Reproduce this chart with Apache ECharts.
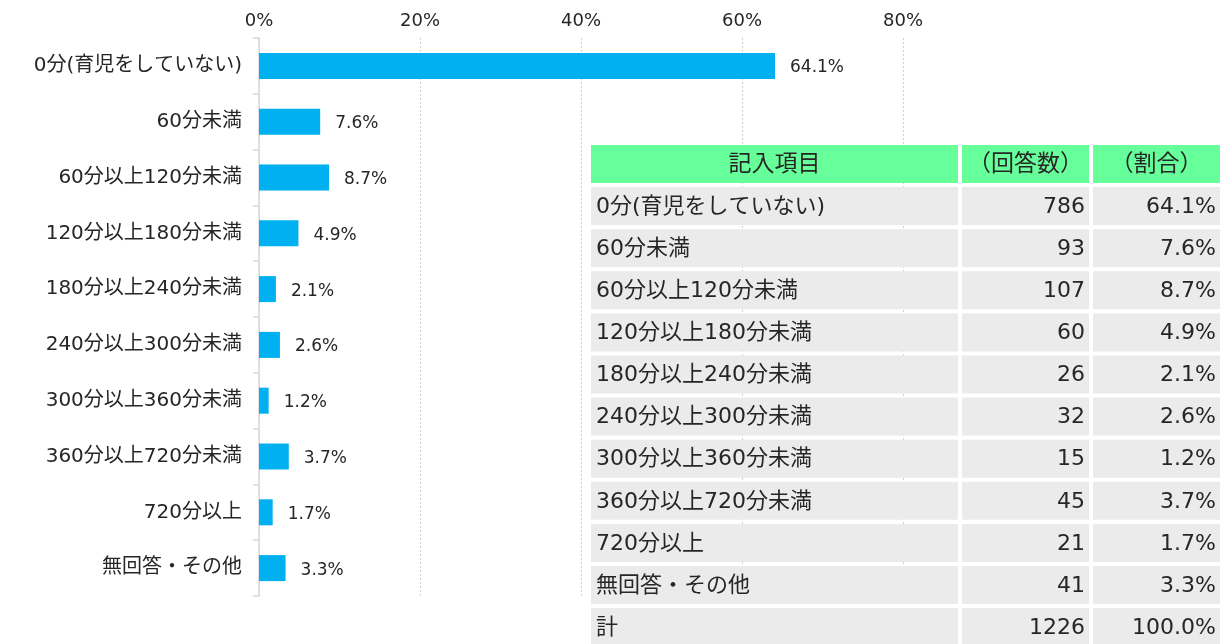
<!DOCTYPE html>
<html>
<head>
<meta charset="utf-8">
<script src="https://cdn.jsdelivr.net/npm/echarts@6/dist/echarts.min.js"></script>
<style>
html,body{margin:0;padding:0;background:#fff;}
#chart{width:1232px;height:644px;}
</style>
</head>
<body>
<div id="chart"></div>
<script>
// ---- data ----
const categories = ['0分(育児をしていない)','60分未満','60分以上120分未満','120分以上180分未満','180分以上240分未満','240分以上300分未満','300分以上360分未満','360分以上720分未満','720分以上','無回答・その他'];
const percents = [64.1, 7.6, 8.7, 4.9, 2.1, 2.6, 1.2, 3.7, 1.7, 3.3];
const counts = [786, 93, 107, 60, 26, 32, 15, 45, 21, 41];
const tableHeaders = ['記入項目', '（回答数）', '（割合）'];
const totalLabel = '計';
const totalCount = 1226;
const totalPercent = 100.0;
const xTicks = [0, 20, 40, 60, 80];

// ---- chart ----
const chart = echarts.init(document.getElementById('chart'));
const FONT = '"DejaVu Sans", "Noto Sans CJK JP", sans-serif';
const TEXT = '#262626';

// table layout (graphic)
const colX = [591, 962, 1093];
const colW = [367, 127, 127];
const top0 = 145, rowPitch = 42.1, cellH = 38;
const tableFont = 22, headerFont = 23;
const rows = categories.map((c, i) => [c, String(counts[i]), percents[i].toFixed(1) + '%']);
rows.push([totalLabel, String(totalCount), totalPercent.toFixed(1) + '%']);

const graphics = [];
function cell(r, c, text, bg, align, fs) {
  const y = top0 + r * rowPitch;
  graphics.push({
    type: 'rect', z: 100,
    shape: { x: colX[c], y: y, width: colW[c], height: cellH },
    style: { fill: bg }
  });
  let tx, ta;
  if (align === 'center') { tx = colX[c] + colW[c] / 2; ta = 'center'; }
  else if (align === 'right') { tx = colX[c] + colW[c] - 4; ta = 'right'; }
  else { tx = colX[c] + 5; ta = 'left'; }
  graphics.push({
    type: 'text', z: 101,
    x: tx, y: y + cellH / 2 + 1,
    style: { text: text, font: fs + 'px ' + FONT, fill: TEXT, align: ta, verticalAlign: 'middle' }
  });
}
tableHeaders.forEach((h, c) => cell(0, c, h, '#66FF99', 'center', headerFont));
rows.forEach((row, r) => {
  cell(r + 1, 0, row[0], '#EBEBEB', 'left', tableFont);
  cell(r + 1, 1, row[1], '#EBEBEB', 'right', tableFont);
  cell(r + 1, 2, row[2], '#EBEBEB', 'right', tableFont);
});

chart.setOption({
  animation: false,
  textStyle: { fontFamily: FONT },
  grid: { left: 259, right: 329, top: 38, bottom: 48, containLabel: false },
  xAxis: {
    type: 'value', position: 'top',
    min: xTicks[0], max: xTicks[xTicks.length - 1], interval: xTicks[1] - xTicks[0],
    axisLine: { show: false }, axisTick: { show: false },
    axisLabel: { formatter: '{value}%', fontSize: 18, color: TEXT, margin: 8, fontFamily: FONT },
    splitLine: { show: true, lineStyle: { color: '#d0d0d0', type: [2, 2], width: 1 } }
  },
  yAxis: {
    type: 'category', inverse: true, data: categories,
    axisLine: { show: true, lineStyle: { color: '#d9d9d9', width: 1.5 } },
    axisTick: { show: true, length: 6, lineStyle: { color: '#d9d9d9', width: 1.5 } },
    axisLabel: { fontSize: 20, color: TEXT, margin: 17, fontFamily: FONT, padding: [4, 0, 0, 0] }
  },
  series: [{
    type: 'bar', data: percents, barWidth: 26,
    itemStyle: { color: '#00B0F0' },
    label: { show: true, position: 'right', distance: 15, fontSize: 17, color: TEXT, fontFamily: FONT,
      offset: [0, 2],
      formatter: p => p.value.toFixed(1) + '%' }
  }],
  graphic: graphics
});
</script>
</body>
</html>
